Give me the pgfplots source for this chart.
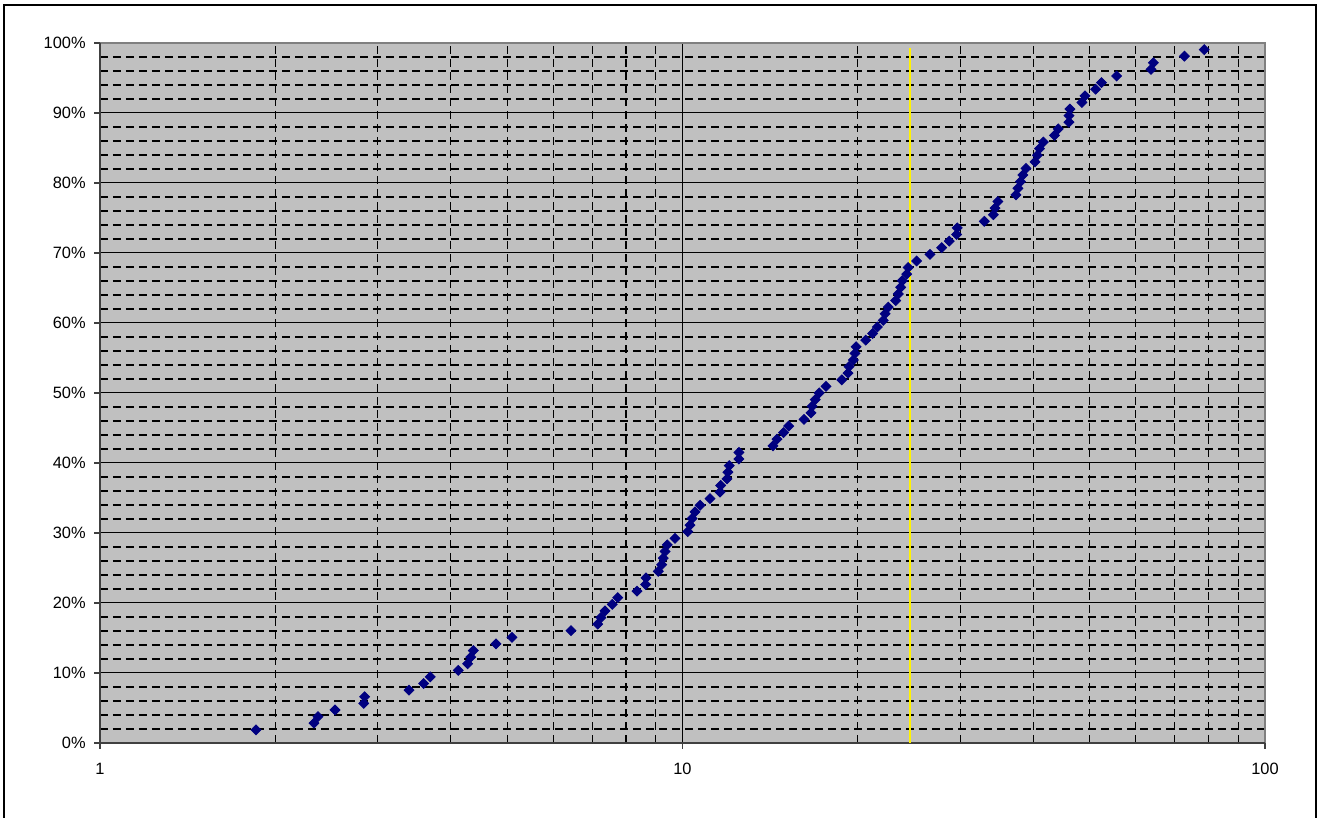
\documentclass[border=0pt]{standalone}
\usepackage{pgfplots}
\pgfplotsset{compat=1.18}
\usepackage{fontspec}
\setmainfont{Liberation Sans}
\definecolor{plotgray}{HTML}{C0C0C0}
\definecolor{navy}{HTML}{000080}
\definecolor{axisdark}{HTML}{404040}

\begin{document}
\begin{tikzpicture}
\path[use as bounding box] (-50pt,-37.5pt) rectangle (609.5pt,371.5pt);
\begin{axis}[
  at={(0pt,0pt)}, anchor=south west,
  scale only axis, width=582.5pt, height=350pt,
  xmode=log, log basis x=10,
  xmin=1, xmax=100, ymin=0, ymax=100,
  xtick={1,10,100}, xticklabels={1,10,100},
  minor xtick={2,3,4,5,6,7,8,9,20,30,40,50,60,70,80,90},
  ytick={0,10,20,30,40,50,60,70,80,90,100},
  yticklabels={0\%,10\%,20\%,30\%,40\%,50\%,60\%,70\%,80\%,90\%,100\%},
  minor ytick={2,4,6,8,12,14,16,18,22,24,26,28,32,34,36,38,42,44,46,48,
    52,54,56,58,62,64,66,68,72,74,76,78,82,84,86,88,92,94,96,98},
  axis background/.style={fill=plotgray},
  grid=both,
  major grid style={black, line width=0.5pt},
  minor grid style={black, line width=0.55pt, dash pattern=on 4pt off 2.5pt},
  tick pos=left, tick align=outside,
  major tick length=3pt, minor tick length=0pt,
  tick style={axisdark, line width=0.6pt},
  axis line style={draw=none},
  tick label style={font=\fontsize{8.2pt}{9.8pt}\selectfont},
  yticklabel style={inner sep=0pt, xshift=-4pt},
  xticklabel style={inner sep=0pt, yshift=-7pt},
  clip=false,
]
\draw[gray, line width=0.6pt] (rel axis cs:0,1) -- (rel axis cs:1,1) -- (rel axis cs:1,0);
\draw[axisdark, line width=0.9pt] (rel axis cs:0,1) -- (rel axis cs:0,0) -- (rel axis cs:1,0);

\addplot[yellow, line width=1pt, no marks] coordinates {(24.6,0) (24.6,99.3)};

\addplot[only marks, mark=square*, mark size=1.75pt,
  mark options={rotate=45, fill=navy, draw=navy}] table {
x y
1.853 1.887
2.330 2.830
2.367 3.774
2.532 4.717
2.836 5.660
2.847 6.604
3.393 7.547
3.595 8.491
3.690 9.434
4.122 10.377
4.278 11.321
4.329 12.264
4.374 13.208
4.785 14.151
5.096 15.094
6.436 16.038
7.152 16.981
7.246 17.925
7.362 18.868
7.578 19.811
7.742 20.755
8.354 21.698
8.646 22.642
8.656 23.585
9.088 24.528
9.211 25.472
9.270 26.415
9.333 27.358
9.417 28.302
9.708 29.245
10.21 30.189
10.30 31.132
10.39 32.075
10.51 33.019
10.72 33.962
11.15 34.906
11.60 35.849
11.63 36.792
11.92 37.736
11.97 38.679
12.03 39.623
12.50 40.566
12.50 41.509
14.30 42.453
14.53 43.396
14.91 44.340
15.22 45.283
16.17 46.226
16.62 47.170
16.69 48.113
16.90 49.057
17.17 50.000
17.64 50.943
18.77 51.887
19.24 52.830
19.32 53.774
19.65 54.717
19.78 55.660
19.86 56.604
20.63 57.547
21.20 58.491
21.60 59.434
22.12 60.377
22.27 61.321
22.56 62.264
23.23 63.208
23.47 64.151
23.69 65.094
23.84 66.038
24.26 66.981
24.41 67.925
25.23 68.868
26.60 69.811
27.86 70.755
28.71 71.698
29.56 72.642
29.63 73.585
32.97 74.528
34.17 75.472
34.40 76.415
34.80 77.358
37.37 78.302
37.67 79.245
38.04 80.189
38.41 81.132
38.88 82.075
40.29 83.019
40.68 83.962
41.01 84.906
41.63 85.849
43.51 86.792
44.17 87.736
46.08 88.679
46.08 89.623
46.26 90.566
48.50 91.509
49.09 92.453
51.21 93.396
52.40 94.340
55.65 95.283
63.74 96.226
64.33 97.170
72.74 98.113
78.66 99.057
};
\end{axis}
\draw[black, line width=1pt] (-47.75pt,-45pt) rectangle (608pt,368.75pt);
\end{tikzpicture}
\end{document}
